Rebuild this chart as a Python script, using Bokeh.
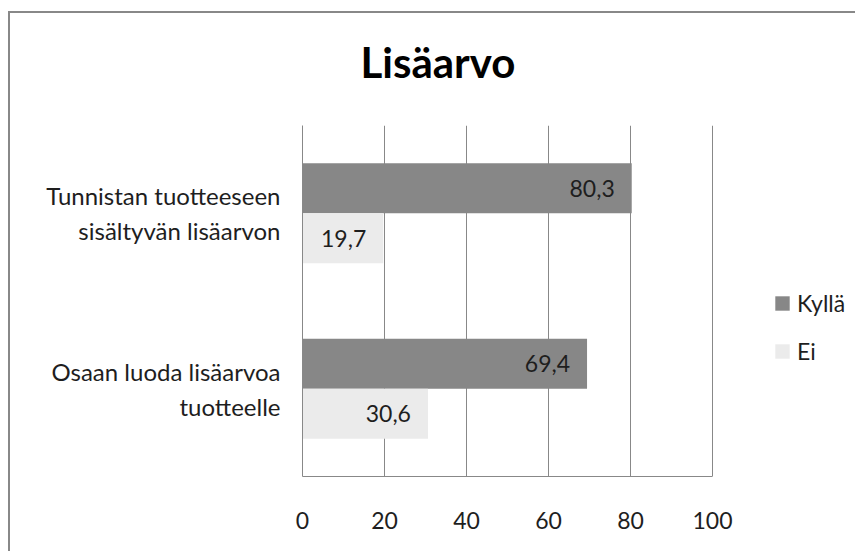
from bokeh.plotting import figure
from bokeh.models import ColumnDataSource, Legend, LegendItem, FixedTicker, Range1d, FactorRange, Title
from bokeh.transform import dodge
from bokeh.core.properties import value
from bokeh.embed import file_html
from bokeh.resources import INLINE

# ---- data ----
categories = ["Osaan luoda lisäarvoa\ntuotteelle", "Tunnistan tuotteeseen\nsisältyvän lisäarvon"]
kylla = [69.4, 80.3]
ei = [30.6, 19.7]
series_names = ["Kyllä", "Ei"]
x_ticks = [0, 20, 40, 60, 80, 100]
title_text = "Lisäarvo"

def fmt(v):
    return f"{v:.1f}".replace(".", ",")

src = ColumnDataSource(dict(
    cat=categories,
    kylla=kylla,
    ei=ei,
    kylla_lbl=[fmt(v) for v in kylla],
    ei_lbl=[fmt(v) for v in ei],
))

FONT = "Lato"
DARK = "#878787"
LIGHT = "#ebebeb"
GRID = "#888888"
TXT = "#1e1e1e"
FS = "23px"

# layout (pixels)
W, H = 847, 540
LEFT, TOP, BOTTOM = 292, 112, 77
AXIS_PX = 410                      # width of the 0..100 value axis
frame_w = W - LEFT
x_max = 100 * frame_w / AXIS_PX    # frame extends past 100 to hold the legend

p = figure(width=W, height=H, title=None,
           y_range=FactorRange(factors=categories, range_padding=0),
           x_range=Range1d(0, x_max),
           output_backend="svg", toolbar_location=None,
           min_border_left=LEFT, min_border_right=0,
           min_border_top=TOP, min_border_bottom=BOTTOM)
p.margin = (11, 0, 0, 8)
p.styles = {"border-top": "2px solid #888888", "border-left": "2px solid #888888"}

off = 0.1425
bh = 0.285
r1 = p.hbar(y=dodge("cat", off, range=p.y_range), left=0, right="kylla", height=bh,
            source=src, fill_color=DARK, line_color=None)
r2 = p.hbar(y=dodge("cat", -off, range=p.y_range), left=0, right="ei", height=bh,
            source=src, fill_color=LIGHT, line_color=None)

p.text(x="kylla", y=dodge("cat", off, range=p.y_range), text="kylla_lbl", source=src,
       x_offset=-17, text_align="right", text_baseline="middle",
       text_font=value(FONT), text_font_size=FS, text_color=TXT)
p.text(x="ei", y=dodge("cat", -off, range=p.y_range), text="ei_lbl", source=src,
       x_offset=-17, text_align="right", text_baseline="middle",
       text_font=value(FONT), text_font_size=FS, text_color=TXT)

# spacer (closest to the frame) then the real title above it
spacer = Title(text=" ", text_font=FONT, text_font_size="20px", standoff=13)
main_title = Title(text=title_text, align="left", offset=58, text_font=FONT,
                   text_font_size="42px", text_font_style="bold",
                   text_color="#000000", standoff=0)
p.add_layout(spacer, "above")
p.add_layout(main_title, "above")

p.outline_line_color = None
p.ygrid.grid_line_color = None
p.xgrid.ticker = FixedTicker(ticks=x_ticks)
p.xgrid.grid_line_color = GRID

xa = p.xaxis[0]
xa.ticker = FixedTicker(ticks=x_ticks)
xa.bounds = (0, 100)
xa.major_tick_line_color = None
xa.minor_tick_line_color = None
xa.axis_line_color = GRID
xa.major_label_text_font = FONT
xa.major_label_text_font_size = FS
xa.major_label_text_color = TXT
xa.major_label_standoff = 29

ya = p.yaxis[0]
ya.major_tick_line_color = None
ya.minor_tick_line_color = None
ya.axis_line_color = GRID
ya.major_label_text_font = FONT
ya.major_label_text_font_size = "24px"
ya.major_label_text_color = TXT
ya.major_label_standoff = 16

legend = Legend(items=[LegendItem(label=series_names[0], renderers=[r1]),
                       LegendItem(label=series_names[1], renderers=[r2])],
                location=(471, 111), orientation="vertical")
legend.padding = 0
legend.margin = 0
legend.border_line_color = None
legend.background_fill_alpha = 0
legend.glyph_width = 18
legend.glyph_height = 18
legend.label_height = 14
legend.label_standoff = 6
legend.spacing = 20
legend.label_text_font = FONT
legend.label_text_font_size = FS
legend.label_text_color = TXT
p.add_layout(legend, "center")

open("out.html", "w").write(file_html(p, INLINE))
